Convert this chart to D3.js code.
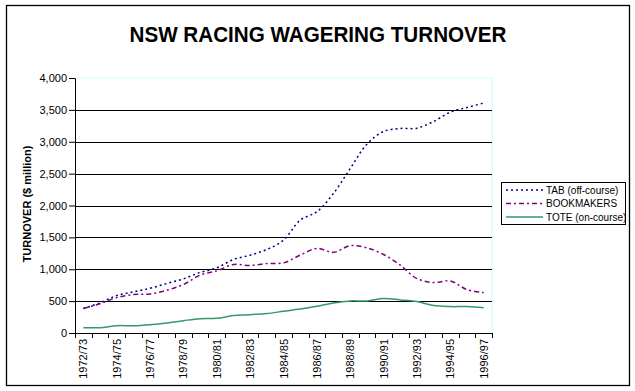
<!DOCTYPE html>
<html>
<head>
<meta charset="utf-8">
<script src="https://cdn.jsdelivr.net/npm/d3@7"></script>
<style>
  body { margin: 0; background: #fff; }
  text { font-family: Arial, "Liberation Sans", sans-serif; }
</style>
</head>
<body>
<svg id="chart"></svg>
<script>
const years = ['1972/73','1973/74','1974/75','1975/76','1976/77','1977/78','1978/79','1979/80',
  '1980/81','1981/82','1982/83','1983/84','1984/85','1985/86','1986/87','1987/88','1988/89',
  '1989/90','1990/91','1991/92','1992/93','1993/94','1994/95','1995/96','1996/97']

const tab = [383, 472, 587, 645, 702, 776, 849, 949, 1022, 1153, 1221, 1310, 1457, 1771, 1902,
  2190, 2580, 2962, 3161, 3208, 3213, 3318, 3465, 3538, 3606]
const bookmakers = [383, 460, 555, 603, 613, 670, 760, 907, 975, 1074, 1059, 1090, 1100, 1221, 1326,
  1265, 1370, 1336, 1231, 1064, 854, 791, 817, 681, 634]
const tote = [84, 84, 115, 115, 131, 157, 194, 225, 231, 273, 288, 304, 341, 377, 419,
  472, 503, 503, 540, 519, 493, 430, 414, 414, 398]

const yTicks = [0, 500, 1000, 1500, 2000, 2500, 3000, 3500, 4000]

const series = [
  { name: 'TAB (off-course)', values: tab, color: '#000080', dash: '2,3' },
  { name: 'BOOKMAKERS', values: bookmakers, color: '#800080', dash: '5,3,2,3' },
  { name: 'TOTE (on-course)', values: tote, color: '#339966', dash: null }
]

const W = 635, H = 391
const svg = d3.select('#chart').attr('width', W).attr('height', H)

// outer frame
svg.append('rect')
  .attr('x', 6.5).attr('y', 5.5)
  .attr('width', 623).attr('height', 380)
  .attr('fill', '#fff').attr('stroke', '#000').attr('stroke-width', 1.3)

// title
svg.append('text')
  .attr('x', 318).attr('y', 42)
  .attr('text-anchor', 'middle')
  .attr('font-size', 22).attr('font-weight', 'bold')
  .attr('textLength', 377).attr('lengthAdjust', 'spacingAndGlyphs')
  .text('NSW RACING WAGERING TURNOVER')

const plot = { left: 75, right: 492, top: 78, bottom: 333 }

const x = d3.scaleBand().domain(years).range([plot.left, plot.right])
const y = d3.scaleLinear().domain([0, 4000]).range([plot.bottom, plot.top])

// plot area border (light cyan top/right)
svg.append('path')
  .attr('d', `M${plot.left},${plot.top}H${plot.right}V${plot.bottom}`)
  .attr('fill', 'none').attr('stroke', '#ccffff').attr('stroke-width', 1.2)

// gridlines
svg.append('g')
  .selectAll('line')
  .data(yTicks.filter(d => d > 0 && d < 4000))
  .join('line')
  .attr('x1', plot.left).attr('x2', plot.right)
  .attr('y1', d => Math.round(y(d)) + 0.5).attr('y2', d => Math.round(y(d)) + 0.5)
  .attr('stroke', '#000').attr('stroke-width', 1)

// y axis
const yAxis = d3.axisLeft(y).tickValues(yTicks).tickSize(6).tickPadding(2)
  .tickFormat(d3.format(','))
const gy = svg.append('g')
  .attr('transform', `translate(${plot.left},0)`)
  .call(yAxis)
gy.selectAll('text').attr('font-size', 11).attr('font-family', 'Arial, "Liberation Sans", sans-serif')
  .attr('fill', '#000')

// x axis: ticks at category boundaries
const gx = svg.append('g')
gx.append('line')
  .attr('x1', plot.left).attr('x2', plot.right)
  .attr('y1', plot.bottom + 0.5).attr('y2', plot.bottom + 0.5)
  .attr('stroke', '#000')
gx.selectAll('line.tick')
  .data(years.concat(['end']))
  .join('line')
  .attr('class', 'tick')
  .attr('x1', (d, i) => Math.round(plot.left + i * x.bandwidth()) + 0.5)
  .attr('x2', (d, i) => Math.round(plot.left + i * x.bandwidth()) + 0.5)
  .attr('y1', plot.bottom).attr('y2', plot.bottom + 5)
  .attr('stroke', '#000')
gx.selectAll('text')
  .data(years.filter((d, i) => i % 2 === 0))
  .join('text')
  .attr('transform', d => `translate(${x(d) + x.bandwidth() / 2 + 4},339) rotate(-90)`)
  .attr('text-anchor', 'end')
  .attr('font-size', 11)
  .text(d => d)

// y axis title
svg.append('text')
  .attr('transform', 'translate(31,204) rotate(-90)')
  .attr('text-anchor', 'middle')
  .attr('font-size', 11).attr('font-weight', 'bold')
  .text('TURNOVER ($ million)')

// lines
const line = d3.line()
  .x((d, i) => x(years[i]) + x.bandwidth() / 2)
  .y(d => y(d))
  .curve(d3.curveCatmullRom)

series.forEach(s => {
  svg.append('path')
    .datum(s.values)
    .attr('d', line)
    .attr('fill', 'none')
    .attr('stroke', s.color)
    .attr('stroke-width', 1.5)
    .attr('stroke-dasharray', s.dash)
})

// legend
const lg = svg.append('g')
lg.append('rect')
  .attr('x', 501.5).attr('y', 182.5).attr('width', 124).attr('height', 42)
  .attr('fill', '#fff').attr('stroke', '#000')
series.forEach((s, i) => {
  const yy = 190 + i * 13.5
  lg.append('line')
    .attr('x1', 506).attr('x2', 543)
    .attr('y1', yy).attr('y2', yy)
    .attr('stroke', s.color).attr('stroke-width', 1.3)
    .attr('stroke-dasharray', s.dash)
  lg.append('text')
    .attr('x', 546).attr('y', yy + 3.5)
    .attr('font-size', 10)
    .text(s.name)
})
</script>
</body>
</html>
